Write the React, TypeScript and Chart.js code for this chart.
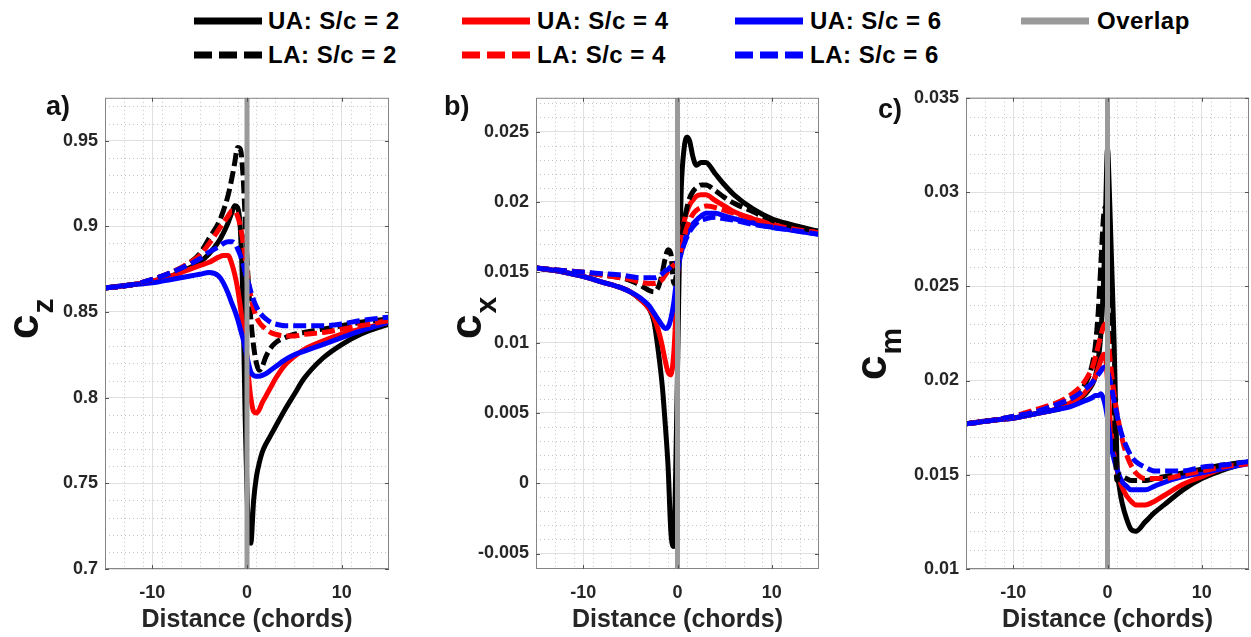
import React, { useEffect, useRef } from 'react';
import { Chart, registerables } from 'chart.js';
Chart.register(...registerables);

const FONT = '"Liberation Sans", Arial, Helvetica, sans-serif';
const TXT = '#262626';

// Distance along span (chords)
const DIST = [-15, -12, -10, -8, -6, -5, -4, -3, -2.5, -2, -1.6, -1.3, -1, -0.7, -0.4, -0.2, 0, 0.2, 0.4, 0.7, 1, 1.3, 1.6, 2, 2.5, 3, 4, 5, 6, 8, 10, 12, 15];

// a) c_z
const CZ_UA2 = [0.864, 0.866, 0.868, 0.871, 0.876, 0.879, 0.884, 0.891, 0.896, 0.902, 0.908, 0.912, 0.911, 0.898, 0.850, 0.790, 0.745, 0.720, 0.715, 0.740, 0.754, 0.762, 0.768, 0.773, 0.778, 0.783, 0.793, 0.802, 0.811, 0.823, 0.831, 0.837, 0.843];
const CZ_UA4 = [0.864, 0.866, 0.868, 0.871, 0.875, 0.877, 0.879, 0.882, 0.883, 0.883, 0.878, 0.872, 0.864, 0.853, 0.840, 0.832, 0.824, 0.810, 0.800, 0.792, 0.791, 0.793, 0.797, 0.801, 0.806, 0.811, 0.819, 0.824, 0.828, 0.833, 0.837, 0.840, 0.844];
const CZ_UA6 = [0.864, 0.866, 0.867, 0.869, 0.871, 0.872, 0.873, 0.871, 0.867, 0.861, 0.855, 0.851, 0.846, 0.840, 0.834, 0.829, 0.824, 0.819, 0.815, 0.813, 0.8125, 0.8125, 0.813, 0.814, 0.816, 0.818, 0.822, 0.825, 0.827, 0.831, 0.835, 0.839, 0.844];
const CZ_LA2 = [0.864, 0.866, 0.869, 0.873, 0.879, 0.884, 0.893, 0.902, 0.909, 0.918, 0.928, 0.937, 0.946, 0.945, 0.928, 0.905, 0.881, 0.862, 0.846, 0.830, 0.820, 0.816, 0.818, 0.824, 0.829, 0.832, 0.835, 0.837, 0.838, 0.840, 0.842, 0.844, 0.846];
const CZ_LA4 = [0.864, 0.866, 0.869, 0.873, 0.879, 0.883, 0.890, 0.898, 0.902, 0.906, 0.909, 0.909, 0.906, 0.900, 0.890, 0.882, 0.874, 0.866, 0.859, 0.852, 0.847, 0.844, 0.842, 0.840, 0.838, 0.837, 0.836, 0.836, 0.837, 0.838, 0.840, 0.842, 0.845];
const CZ_LA6 = [0.864, 0.866, 0.869, 0.873, 0.878, 0.881, 0.885, 0.888, 0.890, 0.891, 0.891, 0.890, 0.887, 0.883, 0.878, 0.873, 0.869, 0.866, 0.862, 0.857, 0.853, 0.850, 0.848, 0.846, 0.844, 0.843, 0.842, 0.842, 0.842, 0.842, 0.843, 0.845, 0.847];

// b) c_x
const CX_UA2 = [0.0153, 0.0150, 0.0147, 0.0143, 0.0139, 0.0136, 0.0131, 0.0124, 0.0115, 0.0092, 0.0068, 0.0042, 0.0012, -0.0035, -0.0045, 0.0005, 0.0080, 0.0160, 0.0210, 0.0238, 0.0246, 0.0243, 0.0233, 0.0226, 0.0228, 0.0228, 0.0220, 0.0212, 0.0205, 0.0195, 0.0188, 0.0184, 0.0179];
const CX_UA4 = [0.0153, 0.0150, 0.0147, 0.0143, 0.0139, 0.0136, 0.0131, 0.0124, 0.0118, 0.0108, 0.0097, 0.0087, 0.0079, 0.0077, 0.0092, 0.0116, 0.0148, 0.0165, 0.0176, 0.0186, 0.0193, 0.0198, 0.0201, 0.0204, 0.0205, 0.0205, 0.0201, 0.0197, 0.0193, 0.0188, 0.0184, 0.0181, 0.0178];
const CX_UA6 = [0.0153, 0.0150, 0.0147, 0.0143, 0.0139, 0.0136, 0.0132, 0.0126, 0.0121, 0.0116, 0.0112, 0.0110, 0.0111, 0.0117, 0.0128, 0.0139, 0.0150, 0.0158, 0.0164, 0.0171, 0.0177, 0.0181, 0.0184, 0.0187, 0.0190, 0.0192, 0.0192, 0.0190, 0.0188, 0.0185, 0.0182, 0.0180, 0.0177];
const CX_LA2 = [0.0153, 0.0151, 0.0150, 0.0148, 0.0146, 0.0144, 0.0141, 0.0137, 0.0136, 0.0140, 0.0150, 0.0160, 0.0166, 0.0163, 0.0142, 0.0145, 0.0155, 0.0163, 0.0172, 0.0186, 0.0196, 0.0203, 0.0207, 0.0210, 0.0212, 0.0212, 0.0208, 0.0203, 0.0199, 0.0193, 0.0187, 0.0183, 0.0179];
const CX_LA4 = [0.0153, 0.0151, 0.0150, 0.0148, 0.0146, 0.0145, 0.0143, 0.0142, 0.0142, 0.0143, 0.0145, 0.0148, 0.0151, 0.0153, 0.0155, 0.0156, 0.0158, 0.0162, 0.0167, 0.0175, 0.0182, 0.0187, 0.0191, 0.0194, 0.0196, 0.0197, 0.0196, 0.0194, 0.0192, 0.0188, 0.0184, 0.0181, 0.0178];
const CX_LA6 = [0.0153, 0.0151, 0.0150, 0.0149, 0.0148, 0.0147, 0.0146, 0.0146, 0.0146, 0.0147, 0.0149, 0.0151, 0.0152, 0.0154, 0.0155, 0.0156, 0.0158, 0.0161, 0.0164, 0.0170, 0.0175, 0.0179, 0.0182, 0.0185, 0.0187, 0.0188, 0.0189, 0.0188, 0.0187, 0.0184, 0.0182, 0.0180, 0.0177];

// c) c_m
const CM_UA2 = [0.0177, 0.0179, 0.0180, 0.0182, 0.0184, 0.0185, 0.0187, 0.0190, 0.0192, 0.0195, 0.0198, 0.0202, 0.0210, 0.0225, 0.0255, 0.0290, 0.0323, 0.0300, 0.0268, 0.0220, 0.0158, 0.0142, 0.0134, 0.0127, 0.0121, 0.0120, 0.0125, 0.0130, 0.0134, 0.0142, 0.0148, 0.0152, 0.0157];
const CM_UA4 = [0.0177, 0.0179, 0.0180, 0.0182, 0.0184, 0.0186, 0.0188, 0.0191, 0.0193, 0.0196, 0.0199, 0.0202, 0.0206, 0.0211, 0.0214, 0.0212, 0.0200, 0.0185, 0.0172, 0.0160, 0.0153, 0.0147, 0.0143, 0.0139, 0.0136, 0.0134, 0.0134, 0.0136, 0.0139, 0.0145, 0.0149, 0.0153, 0.0156];
const CM_UA6 = [0.0177, 0.0179, 0.0180, 0.0182, 0.0184, 0.0185, 0.0186, 0.0188, 0.0189, 0.0190, 0.0191, 0.0192, 0.0192, 0.0193, 0.0190, 0.0186, 0.0180, 0.0172, 0.0165, 0.0158, 0.0153, 0.0149, 0.0146, 0.0144, 0.0142, 0.0142, 0.0142, 0.0144, 0.0146, 0.0149, 0.0151, 0.0153, 0.0156];
const CM_LA2 = [0.0177, 0.0179, 0.0181, 0.0183, 0.0186, 0.0188, 0.0190, 0.0194, 0.0197, 0.0202, 0.0209, 0.0218, 0.0235, 0.0262, 0.0288, 0.0292, 0.0275, 0.0248, 0.0222, 0.0190, 0.0147, 0.0150, 0.0149, 0.0148, 0.0147, 0.0147, 0.0147, 0.0148, 0.0149, 0.0151, 0.0153, 0.0155, 0.0157];
const CM_LA4 = [0.0177, 0.0179, 0.0181, 0.0184, 0.0187, 0.0189, 0.0192, 0.0196, 0.0199, 0.0203, 0.0207, 0.0212, 0.0218, 0.0224, 0.0229, 0.0230, 0.0226, 0.0215, 0.0205, 0.0193, 0.0183, 0.0175, 0.0168, 0.0161, 0.0155, 0.0151, 0.0148, 0.0148, 0.0148, 0.0150, 0.0152, 0.0154, 0.0156];
const CM_LA6 = [0.0177, 0.0179, 0.0181, 0.0183, 0.0186, 0.0188, 0.0190, 0.0193, 0.0195, 0.0197, 0.0199, 0.0201, 0.0203, 0.0205, 0.0207, 0.0207, 0.0205, 0.0201, 0.0197, 0.0189, 0.0182, 0.0175, 0.0170, 0.0165, 0.0160, 0.0157, 0.0154, 0.0152, 0.0152, 0.0152, 0.0154, 0.0155, 0.0157];

const SERIES_LABELS = ['UA: S/c = 2', 'UA: S/c = 4', 'UA: S/c = 6', 'LA: S/c = 2', 'LA: S/c = 4', 'LA: S/c = 6'];
const SERIES_COLORS = ['#000000', '#ff0000', '#0000ff', '#000000', '#ff0000', '#0000ff'];
const OVERLAP_LABEL = 'Overlap';
const OVERLAP_COLOR = '#9a9a9a';

const X_MIN = -15;
const X_MAX = 15;
const X_TICKS = [-10, 0, 10];
const X_MINOR_STEP = 2;

type Panel = {
  letter: string;
  sub: string;
  left: number;
  width: number;
  padRight: number;
  yWidth: number;
  yMin: number;
  yMax: number;
  yTickStart: number;
  yStep: number;
  yMinorStep: number;
  letterPos: [number, number];
  ylabPos: [number, number];
  series: number[][];
};

const PANELS: Panel[] = [
  {
    letter: 'a)', sub: 'z', left: 0, width: 400, padRight: 11, yWidth: 105,
    yMin: 0.7, yMax: 0.975, yTickStart: 0.7, yStep: 0.05, yMinorStep: 0.01,
    letterPos: [46, 35], ylabPos: [38, 259],
    series: [CZ_UA2, CZ_UA4, CZ_UA6, CZ_LA2, CZ_LA4, CZ_LA6],
  },
  {
    letter: 'b)', sub: 'x', left: 420, width: 410, padRight: 11, yWidth: 116,
    yMin: -0.0061, yMax: 0.0274, yTickStart: -0.005, yStep: 0.005, yMinorStep: 0.001,
    letterPos: [24, 35], ylabPos: [61, 259],
    series: [CX_UA2, CX_UA4, CX_UA6, CX_LA2, CX_LA4, CX_LA6],
  },
  {
    letter: 'c)', sub: 'm', left: 840, width: 411, padRight: 2, yWidth: 126,
    yMin: 0.01, yMax: 0.035, yTickStart: 0.01, yStep: 0.005, yMinorStep: 0.001,
    letterPos: [38, 38], ylabPos: [46, 300],
    series: [CM_UA2, CM_UA4, CM_UA6, CM_LA2, CM_LA4, CM_LA6],
  },
];

const r6 = (v: number) => Math.round(v * 1e7) / 1e7;

function range(start: number, end: number, step: number): number[] {
  const out: number[] = [];
  const n = Math.floor((end - start) / step + 1e-6);
  for (let i = 0; i <= n; i++) out.push(r6(start + i * step));
  return out;
}

function decoPlugin(p: Panel, yTicks: number[]) {
  return {
    id: 'deco',
    beforeDatasetsDraw(chart: any) {
      const { ctx, chartArea: a, scales } = chart;
      const xs = scales.x, ys = scales.y;
      ctx.save();
      ctx.strokeStyle = '#c4c4c4';
      ctx.lineWidth = 1;
      ctx.setLineDash([1, 3]);
      ctx.beginPath();
      for (const v of range(X_MIN, X_MAX, X_MINOR_STEP)) {
        if (X_TICKS.some((t) => Math.abs(t - v) < 1e-9)) continue;
        const px = Math.round(xs.getPixelForValue(v)) + 0.5;
        if (px <= a.left + 1 || px >= a.right - 1) continue;
        ctx.moveTo(px, a.top);
        ctx.lineTo(px, a.bottom);
      }
      const start = Math.ceil(p.yMin / p.yMinorStep - 1e-6) * p.yMinorStep;
      for (const v of range(start, p.yMax, p.yMinorStep)) {
        if (yTicks.some((t) => Math.abs(t - v) < p.yMinorStep / 10)) continue;
        const py = Math.round(ys.getPixelForValue(v)) + 0.5;
        if (py <= a.top + 1 || py >= a.bottom - 1) continue;
        ctx.moveTo(a.left, py);
        ctx.lineTo(a.right, py);
      }
      ctx.stroke();
      ctx.restore();
    },
    afterDatasetsDraw(chart: any) {
      const { ctx, chartArea: a, scales } = chart;
      const xs = scales.x, ys = scales.y;
      ctx.save();
      ctx.strokeStyle = '#858585';
      ctx.lineWidth = 1;
      ctx.strokeRect(a.left + 0.5, a.top + 0.5, a.right - a.left - 1, a.bottom - a.top - 1);
      ctx.strokeStyle = '#555555';
      ctx.beginPath();
      for (const v of X_TICKS) {
        const px = Math.round(xs.getPixelForValue(v)) + 0.5;
        ctx.moveTo(px, a.bottom); ctx.lineTo(px, a.bottom - 4);
        ctx.moveTo(px, a.top); ctx.lineTo(px, a.top + 4);
      }
      for (const v of yTicks) {
        const py = Math.round(ys.getPixelForValue(v)) + 0.5;
        ctx.moveTo(a.left, py); ctx.lineTo(a.left + 4, py);
        ctx.moveTo(a.right, py); ctx.lineTo(a.right - 4, py);
      }
      ctx.stroke();
      ctx.restore();
    },
    afterDraw(chart: any) {
      const { ctx } = chart;
      ctx.save();
      ctx.fillStyle = '#111111';
      ctx.textAlign = 'left';
      ctx.textBaseline = 'alphabetic';
      ctx.font = `bold 27px ${FONT}`;
      ctx.fillText(p.letter, p.letterPos[0], p.letterPos[1]);
      ctx.translate(p.ylabPos[0], p.ylabPos[1]);
      ctx.rotate(-Math.PI / 2);
      ctx.font = `bold 44px ${FONT}`;
      ctx.fillText('c', 0, 0);
      const w = ctx.measureText('c').width;
      ctx.font = `bold 30px ${FONT}`;
      ctx.fillText(p.sub, w + 1, 15);
      ctx.restore();
    },
  };
}

function buildChart(canvas: HTMLCanvasElement, p: Panel) {
  const yTicks = range(p.yTickStart, p.yMax, p.yStep);
  const datasets: any[] = p.series.map((vals, i) => ({
    label: SERIES_LABELS[i],
    data: DIST.map((d, j) => ({ x: d, y: vals[j] })),
    borderColor: SERIES_COLORS[i],
    backgroundColor: SERIES_COLORS[i],
    borderWidth: 5,
    borderDash: i >= 3 ? [13, 5] : [],
    borderJoinStyle: 'round',
    pointRadius: 0,
    cubicInterpolationMode: 'monotone',
    order: 6 - i,
  }));
  datasets.push({
    label: OVERLAP_LABEL,
    data: [{ x: 0, y: p.yMin }, { x: 0, y: p.yMax }],
    borderColor: OVERLAP_COLOR,
    borderWidth: 5,
    pointRadius: 0,
    tension: 0,
    order: 0,
  });
  const tickFont = { family: FONT, size: 18, weight: 'bold' as const };
  return new Chart(canvas, {
    type: 'line',
    data: { datasets },
    options: {
      animation: false,
      responsive: false,
      devicePixelRatio: 1,
      events: [],
      layout: { padding: { top: 9, right: p.padRight, left: 0, bottom: 0 } },
      plugins: { legend: { display: false }, tooltip: { enabled: false } },
      scales: {
        x: {
          type: 'linear',
          min: X_MIN,
          max: X_MAX,
          afterBuildTicks: (s: any) => { s.ticks = X_TICKS.map((v) => ({ value: v })); },
          afterFit: (s: any) => { s.height = 68; },
          grid: { color: '#e0e0e0', lineWidth: 1, drawTicks: false },
          border: { display: false },
          ticks: { color: TXT, font: tickFont, padding: 13, maxRotation: 0, callback: (v: any) => String(v) },
          title: {
            display: true,
            text: 'Distance (chords)',
            color: TXT,
            font: { family: FONT, size: 25, weight: 'bold' },
            padding: { top: 0, bottom: 2 },
          },
        },
        y: {
          type: 'linear',
          min: p.yMin,
          max: p.yMax,
          afterBuildTicks: (s: any) => { s.ticks = yTicks.map((v) => ({ value: v })); },
          afterFit: (s: any) => { s.width = p.yWidth; },
          grid: { color: '#e0e0e0', lineWidth: 1, drawTicks: false },
          border: { display: false },
          ticks: {
            color: TXT,
            font: tickFont,
            padding: 7,
            callback: (v: any) => String(Number(Number(v).toFixed(4))),
          },
        },
      },
    },
    plugins: [decoPlugin(p, yTicks)],
  } as any);
}

function PanelChart({ p }: { p: Panel }) {
  const ref = useRef<HTMLCanvasElement | null>(null);
  useEffect(() => {
    if (!ref.current) return;
    const chart = buildChart(ref.current, p);
    return () => chart.destroy();
  }, [p]);
  return (
    <canvas
      ref={ref}
      width={p.width}
      height={557}
      style={{ position: 'absolute', left: p.left, top: 80, width: p.width, height: 557 }}
    />
  );
}

const LEGEND_COLS = [194, 462, 735, 1021];
const LEGEND_TEXT_X = [268, 537, 810, 1097];
const LEGEND_ROWS = [21, 55];

function LegendSample({ x, y, color, dashed }: { x: number; y: number; color: string; dashed: boolean }) {
  return (
    <svg style={{ position: 'absolute', left: x, top: y - 5 }} width={68} height={10}>
      <line x1={0} y1={5} x2={68} y2={5} stroke={color} strokeWidth={7} strokeDasharray={dashed ? '18 7' : undefined} />
    </svg>
  );
}

function Legend() {
  const items: { label: string; color: string; dashed: boolean; col: number; row: number }[] = [];
  SERIES_LABELS.forEach((label, i) => {
    items.push({ label, color: SERIES_COLORS[i], dashed: i >= 3, col: i % 3, row: i >= 3 ? 1 : 0 });
  });
  items.push({ label: OVERLAP_LABEL, color: OVERLAP_COLOR, dashed: false, col: 3, row: 0 });
  return (
    <>
      {items.map((it) => (
        <React.Fragment key={it.label}>
          <LegendSample x={LEGEND_COLS[it.col]} y={LEGEND_ROWS[it.row]} color={it.color} dashed={it.dashed} />
          <span
            style={{
              position: 'absolute',
              left: LEGEND_TEXT_X[it.col],
              top: LEGEND_ROWS[it.row] - 15,
              font: `bold 24px ${FONT}`,
              letterSpacing: '0.5px',
              lineHeight: '29px',
              color: '#000',
              whiteSpace: 'pre',
            }}
          >
            {it.label}
          </span>
        </React.Fragment>
      ))}
    </>
  );
}

export default function App() {
  return (
    <div style={{ position: 'absolute', left: 0, top: 0, width: 1251, height: 637, background: '#ffffff', overflow: 'hidden' }}>
      <Legend />
      {PANELS.map((p) => (
        <PanelChart key={p.letter} p={p} />
      ))}
    </div>
  );
}
